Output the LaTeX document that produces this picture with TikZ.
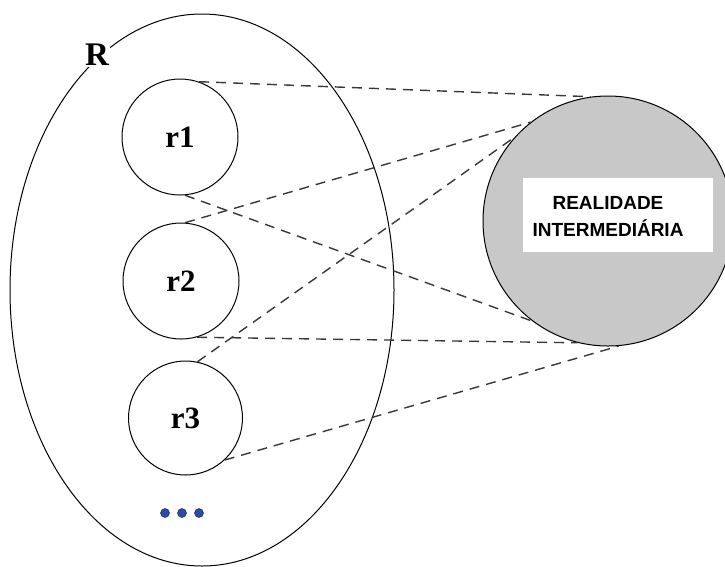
\documentclass[tikz,border=0pt]{standalone}
\usepackage{fontspec}
\setmainfont{Liberation Serif}
\newfontfamily\boxfont{Liberation Sans}
\usetikzlibrary{shapes.geometric}
\definecolor{shade}{RGB}{200,200,200}
\definecolor{dotblue}{RGB}{45,75,165}
\begin{document}
\begin{tikzpicture}[x=1pt,y=-1pt,
  sub/.style={circle, draw, line width=1pt, minimum size=116pt, inner sep=0pt,
              font=\fontsize{31}{34}\selectfont\bfseries},
  link/.style={draw=black!78, line width=1.4pt, dash pattern=on 10pt off 7pt},
  dotmark/.style={circle, fill=dotblue, draw=dotblue!60!black, line width=0.5pt,
                  minimum size=9pt, inner sep=0pt}]
\useasboundingbox (0,0) rectangle (725,566);
\clip (0,0) rectangle (725,566);

% outer set R
\node[ellipse, draw, line width=1pt, minimum width=384pt, minimum height=552pt,
      inner sep=0pt] (R) at (202,290) {};
\node[fill=white, inner sep=1pt, font=\fontsize{33}{36}\selectfont\bfseries]
      (Rlabel) at (97,55) {R};

% members of R
\node[sub] (r1) at (180,137) {r1};
\node[sub] (r2) at (181,281) {r2};
\node[sub, minimum size=114pt] (r3) at (185.5,418) {r3};

% ellipsis
\node[dotmark] (d1) at (165,513) {};
\node[dotmark] (d2) at (182,513) {};
\node[dotmark] (d3) at (199,513) {};

% intermediate reality
\node[circle, draw, fill=shade, line width=1pt, minimum size=250pt,
      inner sep=0pt] (ri) at (608,221) {};
\node[fill=white, minimum width=190pt, minimum height=74pt, inner sep=0pt]
      (box) at (618,215) {};
\node[font=\boxfont\bfseries\fontsize{19}{27}\selectfont, align=center, inner sep=0pt]
      (ritext) at (608,216) {REALIDADE\\INTERMEDIÁRIA};

% connections
\draw[link] (r1.71)  -- (ri.98);
\draw[link] (r1.-85) -- (ri.233);
\draw[link] (r2.86)  -- (ri.128);
\draw[link] (r3.78)  -- (ri.138);
\draw[link] (r2.-74) -- (ri.-104);
\draw[link] (r3.-47) -- (ri.-85);
\end{tikzpicture}
\end{document}
